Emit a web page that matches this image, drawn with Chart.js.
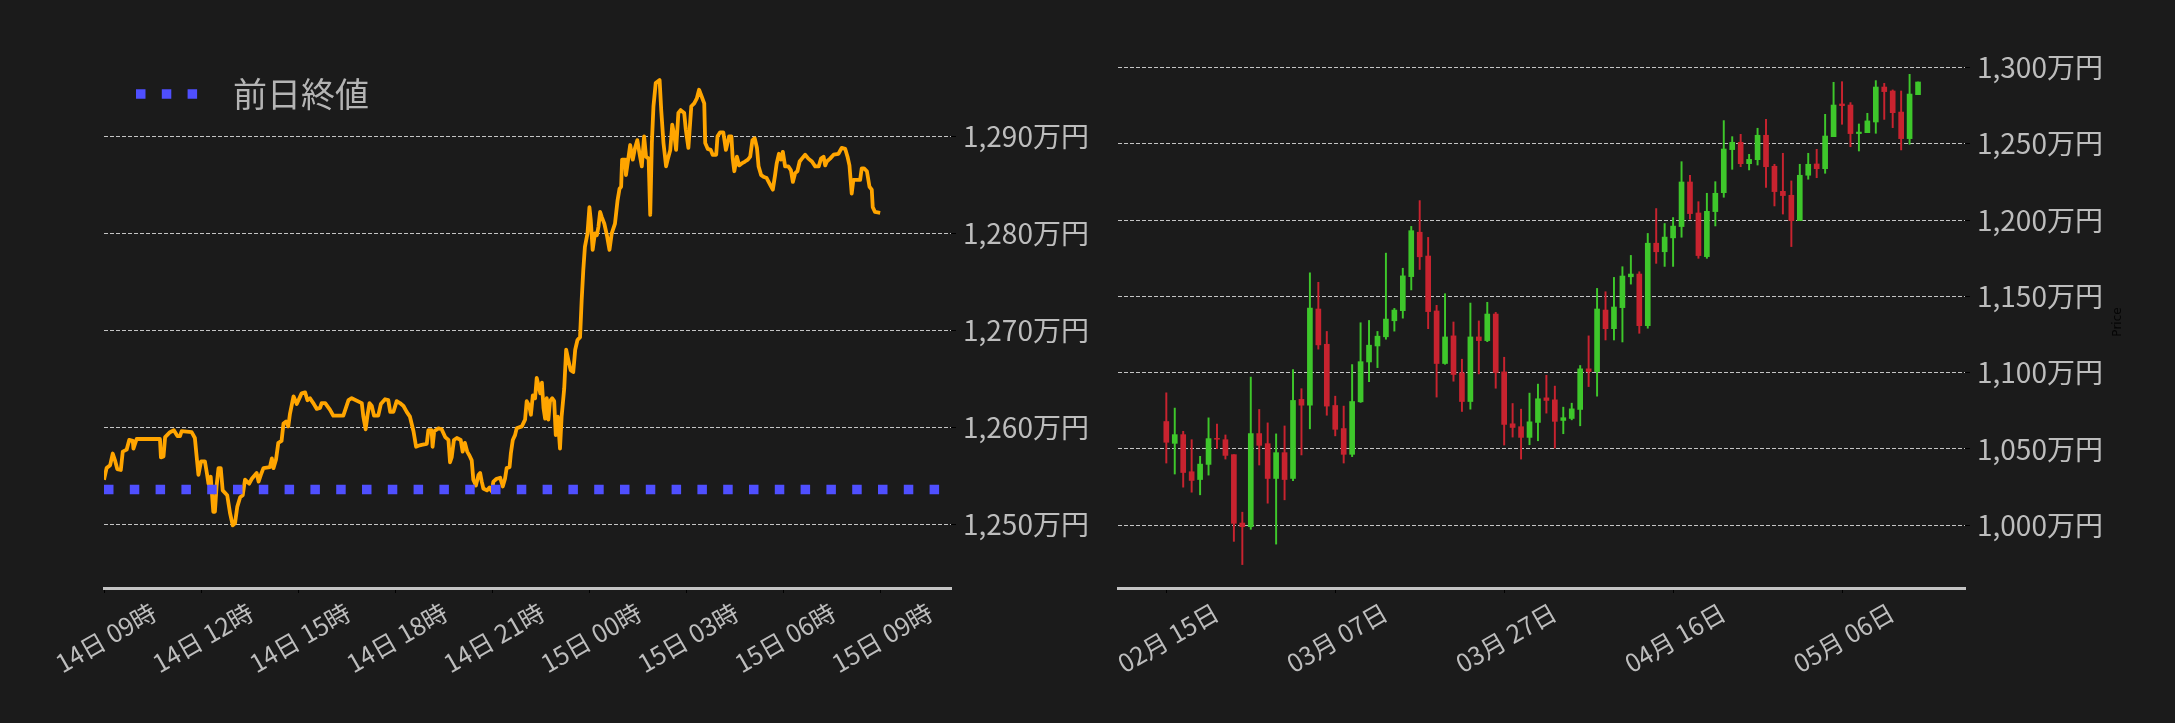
<!DOCTYPE html>
<html lang="ja">
<head>
<meta charset="utf-8">
<title>価格チャート</title>
<script src="https://cdn.jsdelivr.net/npm/chart.js@4.4.1/dist/chart.umd.min.js"></script>
<style>
  html, body { margin: 0; padding: 0; background: #1b1b1b; }
  body { width: 2175px; height: 723px; position: relative; overflow: hidden; }
  canvas { position: absolute; top: 0; }
  #intraday { left: 0; }
  #daily { left: 1088px; }
</style>
</head>
<body>
<canvas id="intraday" width="1088" height="723"></canvas>
<canvas id="daily" width="1087" height="723"></canvas>
<script>
const FONT = "'Noto Sans CJK JP', 'Noto Sans', sans-serif";
const TEXT = '#bdbdbd';
const GRID = 'rgba(215,215,215,0.9)';
const GREEN = '#3ec72b';
const RED = '#c8232f';

// ---- intraday (hours after 14日 09時) ----
const hourTicks = [0, 3, 6, 9, 12, 15, 18, 21, 24];
const hourLabels = ['14日 09時', '14日 12時', '14日 15時', '14日 18時', '14日 21時',
                    '15日 00時', '15日 03時', '15日 06時', '15日 09時'];
const priceTicksL = [1250, 1260, 1270, 1280, 1290];
const prevClose = 1253.6;
const lineHours = [
  0.00, 0.08, 0.19, 0.27, 0.34, 0.41, 0.52, 0.58, 0.70, 0.78, 0.89, 0.91, 1.01, 1.73, 1.76, 1.84,
  1.89, 2.04, 2.16, 2.27, 2.35, 2.40, 2.71, 2.81, 2.87, 2.92, 3.00, 3.12, 3.18, 3.23, 3.30, 3.38,
  3.43, 3.48, 3.54, 3.61, 3.67, 3.81, 3.90, 3.98, 4.05, 4.12, 4.21, 4.29, 4.36, 4.49, 4.57, 4.72,
  4.78, 4.85, 4.93, 5.13, 5.19, 5.24, 5.32, 5.39, 5.49, 5.55, 5.63, 5.70, 5.75, 5.86, 5.96, 6.11,
  6.22, 6.29, 6.37, 6.47, 6.58, 6.68, 6.73, 6.84, 6.99, 7.09, 7.40, 7.56, 7.66, 7.97, 8.02, 8.09,
  8.15, 8.21, 8.28, 8.35, 8.48, 8.56, 8.69, 8.79, 8.85, 8.95, 9.05, 9.15, 9.26, 9.36, 9.46, 9.57,
  9.65, 9.72, 9.82, 9.98, 10.03, 10.13, 10.16, 10.21, 10.34, 10.44, 10.55, 10.65, 10.70, 10.75, 10.82, 10.91,
  11.03, 11.09, 11.16, 11.23, 11.30, 11.37, 11.42, 11.50, 11.58, 11.63, 11.68, 11.73, 11.84, 11.92, 11.99, 12.04,
  12.14, 12.25, 12.33, 12.40, 12.45, 12.54, 12.58, 12.64, 12.71, 12.76, 12.92, 13.02, 13.07, 13.15, 13.20, 13.26,
  13.33, 13.38, 13.43, 13.49, 13.54, 13.59, 13.64, 13.69, 13.74, 13.79, 13.86, 13.92, 13.97, 14.03, 14.10, 14.15,
  14.23, 14.29, 14.36, 14.43, 14.51, 14.57, 14.64, 14.72, 14.77, 14.82, 14.87, 14.95, 15.01, 15.05, 15.11, 15.18,
  15.24, 15.29, 15.34, 15.39, 15.47, 15.55, 15.63, 15.70, 15.80, 15.88, 15.94, 15.99, 16.02, 16.11, 16.14, 16.22,
  16.27, 16.35, 16.42, 16.49, 16.56, 16.63, 16.70, 16.76, 16.84, 16.89, 16.94, 16.99, 17.06, 17.18, 17.23, 17.30,
  17.38, 17.43, 17.51, 17.57, 17.64, 17.69, 17.76, 17.83, 17.94, 17.99, 18.07, 18.16, 18.25, 18.33, 18.40, 18.48,
  18.56, 18.59, 18.67, 18.76, 18.82, 18.93, 18.97, 19.05, 19.15, 19.23, 19.33, 19.40, 19.44, 19.49, 19.57, 19.64,
  19.72, 19.82, 19.91, 19.98, 20.05, 20.12, 20.19, 20.24, 20.32, 20.41, 20.49, 20.60, 20.68, 20.75, 20.80, 20.87,
  20.93, 20.99, 21.06, 21.16, 21.24, 21.30, 21.37, 21.44, 21.51, 21.58, 21.68, 21.78, 21.89, 21.99, 22.10, 22.17,
  22.25, 22.30, 22.35, 22.45, 22.56, 22.71, 22.81, 22.92, 22.99, 23.05, 23.12, 23.17, 23.38, 23.43, 23.50, 23.59,
  23.67, 23.74, 23.77, 23.84, 24.00
];
const linePrices = [
  1254.6, 1255.8, 1256.1, 1257.3, 1256.6, 1255.7, 1255.6, 1257.5, 1257.7, 1258.7, 1258.6, 1257.8, 1258.8, 1258.8, 1256.9, 1257.0,
  1259.0, 1259.5, 1259.7, 1259.1, 1259.1, 1259.6, 1259.5, 1258.9, 1256.8, 1255.1, 1256.5, 1256.5, 1255.3, 1254.2, 1254.9, 1251.3,
  1251.3, 1253.9, 1255.8, 1255.8, 1253.5, 1253.0, 1251.1, 1249.9, 1250.1, 1251.8, 1252.8, 1253.0, 1254.6, 1254.2, 1254.7, 1255.3,
  1254.4, 1255.1, 1255.8, 1255.9, 1256.8, 1255.8, 1256.7, 1258.4, 1258.6, 1260.4, 1260.6, 1260.1, 1261.4, 1263.2, 1262.4, 1263.5,
  1263.6, 1262.8, 1263.0, 1262.5, 1261.9, 1262.0, 1262.5, 1262.5, 1261.8, 1261.2, 1261.2, 1262.8, 1263.0, 1262.5, 1261.1, 1259.8,
  1261.3, 1262.5, 1262.2, 1261.2, 1261.2, 1262.4, 1262.9, 1262.8, 1261.6, 1261.6, 1262.7, 1262.5, 1262.2, 1261.6, 1261.1, 1259.6,
  1258.0, 1258.1, 1258.2, 1258.3, 1259.7, 1259.7, 1258.0, 1259.6, 1259.9, 1259.8, 1259.0, 1258.7, 1256.4, 1256.9, 1258.7, 1258.9,
  1258.7, 1257.5, 1258.4, 1257.5, 1257.1, 1256.6, 1254.6, 1254.0, 1255.1, 1255.3, 1254.4, 1253.7, 1253.5, 1253.8, 1253.4, 1254.4,
  1254.7, 1254.8, 1253.9, 1254.7, 1255.8, 1255.9, 1257.3, 1258.7, 1259.2, 1259.9, 1260.1, 1260.8, 1262.7, 1262.2, 1261.3, 1263.3,
  1263.0, 1265.1, 1264.4, 1263.5, 1264.6, 1262.0, 1260.9, 1263.0, 1260.8, 1262.7, 1263.0, 1262.7, 1259.2, 1261.1, 1257.8, 1261.1,
  1264.0, 1268.0, 1266.9, 1265.9, 1265.7, 1268.0, 1269.0, 1269.3, 1273.1, 1276.2, 1278.6, 1280.0, 1282.7, 1281.4, 1278.3, 1280.0,
  1279.8, 1280.7, 1282.2, 1281.7, 1281.0, 1279.8, 1278.3, 1280.0, 1281.0, 1283.4, 1284.6, 1284.8, 1287.6, 1287.6, 1286.0, 1287.9,
  1289.1, 1287.6, 1288.8, 1289.6, 1288.2, 1286.9, 1290.0, 1287.9, 1287.7, 1281.9, 1289.3, 1293.1, 1295.5, 1295.8, 1292.7, 1289.3,
  1286.9, 1287.6, 1288.6, 1291.2, 1290.0, 1288.6, 1292.4, 1292.7, 1292.4, 1290.7, 1288.8, 1293.1, 1293.4, 1293.9, 1294.8, 1294.1,
  1293.4, 1289.3, 1288.7, 1288.6, 1288.1, 1288.1, 1290.0, 1290.4, 1290.4, 1288.6, 1290.0, 1290.0, 1287.7, 1286.4, 1287.9, 1287.0,
  1287.2, 1287.4, 1287.6, 1287.9, 1289.6, 1289.8, 1288.8, 1286.9, 1286.0, 1285.8, 1285.7, 1285.0, 1284.5, 1286.0, 1287.2, 1288.2,
  1287.6, 1288.4, 1286.9, 1286.9, 1286.5, 1285.3, 1286.2, 1286.4, 1287.4, 1287.7, 1288.1, 1287.7, 1287.4, 1286.9, 1286.9, 1287.7,
  1287.9, 1287.0, 1287.4, 1287.7, 1288.1, 1288.2, 1288.8, 1288.7, 1287.9, 1287.0, 1284.1, 1285.5, 1285.5, 1286.7, 1286.7, 1286.4,
  1284.8, 1284.5, 1282.7, 1282.2, 1282.1
];
const hourMax = 26.19;

// ---- daily candles (day 0 = 02月 15日) ----
const dayTicks = [0, 20, 40, 60, 80];
const dayLabels = ['02月 15日', '03月 07日', '03月 27日', '04月 16日', '05月 06日'];
const priceTicksR = [1000, 1050, 1100, 1150, 1200, 1250, 1300];
const opens = [
  1068.0, 1053.7, 1059.4, 1035.1, 1030.0, 1039.9, 1057.0, 1056.1, 1046.3, 1001.5,
  999.1, 1060.1, 1053.5, 1030.7, 1047.6, 1030.7, 1082.5, 1078.7, 1141.7, 1118.6,
  1078.5, 1063.4, 1046.5, 1080.9, 1107.0, 1117.5, 1123.5, 1134.0, 1140.6, 1162.9,
  1192.0, 1176.4, 1140.4, 1106.0, 1124.1, 1099.9, 1081.1, 1123.4, 1121.0, 1138.4,
  1100.5, 1066.5, 1064.6, 1057.6, 1067.4, 1083.5, 1082.2, 1068.7, 1070.0, 1075.9,
  1102.5, 1100.7, 1141.0, 1128.8, 1142.6, 1162.8, 1164.6, 1130.8, 1184.8, 1179.2,
  1188.3, 1195.7, 1224.9, 1204.6, 1176.0, 1205.5, 1217.9, 1246.1, 1250.9, 1236.9,
  1239.5, 1255.5, 1235.2, 1218.8, 1216.2, 1199.6, 1229.3, 1236.7, 1233.6, 1254.6,
  1276.0, 1275.3, 1256.6, 1257.2, 1264.2, 1287.1, 1284.5, 1270.7, 1253.3, 1282.1
];
const highs = [
  1086.8, 1076.8, 1061.6, 1056.1, 1045.2, 1070.4, 1066.4, 1059.2, 1046.3, 1008.6,
  1097.1, 1075.9, 1067.1, 1059.9, 1065.1, 1102.0, 1089.5, 1165.4, 1159.2, 1127.0,
  1084.6, 1078.1, 1105.3, 1132.7, 1134.2, 1127.0, 1178.3, 1142.1, 1168.4, 1195.8,
  1212.7, 1188.6, 1144.1, 1151.7, 1133.2, 1108.8, 1145.6, 1133.9, 1146.1, 1139.5,
  1110.1, 1079.8, 1076.1, 1086.6, 1092.5, 1098.3, 1091.2, 1077.4, 1080.0, 1104.7,
  1124.1, 1155.2, 1153.0, 1162.4, 1169.4, 1176.8, 1166.1, 1191.2, 1207.5, 1197.7,
  1201.6, 1238.2, 1229.3, 1212.0, 1217.5, 1225.1, 1265.1, 1254.6, 1256.1, 1243.0,
  1260.1, 1265.9, 1236.5, 1243.7, 1225.6, 1236.5, 1243.7, 1246.3, 1269.2, 1290.2,
  1290.6, 1276.9, 1262.9, 1269.9, 1291.3, 1289.5, 1285.2, 1284.5, 1295.4, 1290.4
];
const lows = [
  1040.8, 1033.6, 1025.0, 1021.7, 1020.0, 1032.9, 1050.2, 1043.4, 989.5, 974.3,
  997.4, 1039.5, 1014.5, 987.7, 1016.7, 1029.2, 1046.1, 1063.2, 1115.4, 1072.1,
  1058.6, 1040.8, 1045.0, 1080.5, 1094.1, 1103.3, 1121.9, 1127.2, 1135.7, 1154.2,
  1167.6, 1128.8, 1084.0, 1105.5, 1094.4, 1074.6, 1076.1, 1099.2, 1120.3, 1089.8,
  1052.6, 1057.8, 1043.4, 1052.8, 1055.4, 1073.5, 1050.6, 1060.0, 1069.1, 1065.2,
  1090.9, 1084.6, 1121.4, 1121.4, 1120.1, 1158.0, 1125.8, 1129.1, 1171.6, 1169.6,
  1169.6, 1188.7, 1200.5, 1174.9, 1174.9, 1196.1, 1214.9, 1233.2, 1234.9, 1232.8,
  1236.0, 1221.4, 1209.2, 1203.9, 1182.6, 1199.6, 1226.7, 1227.7, 1230.6, 1254.6,
  1262.7, 1248.0, 1245.2, 1257.2, 1256.8, 1265.9, 1260.5, 1245.9, 1249.6, 1282.1
];
const closes = [
  1054.4, 1059.4, 1034.6, 1029.4, 1040.1, 1056.8, 1056.4, 1045.8, 1001.3, 999.1,
  1060.1, 1052.4, 1030.7, 1047.6, 1030.0, 1081.8, 1078.7, 1142.3, 1118.2, 1078.1,
  1062.9, 1046.5, 1081.1, 1107.2, 1118.0, 1123.9, 1135.1, 1141.0, 1163.4, 1193.0,
  1175.9, 1140.0, 1106.0, 1123.4, 1098.8, 1081.1, 1123.4, 1121.0, 1138.4, 1100.1,
  1066.1, 1064.1, 1057.6, 1067.8, 1082.9, 1081.8, 1068.1, 1070.5, 1076.3, 1102.5,
  1100.7, 1141.7, 1128.8, 1143.0, 1163.3, 1164.6, 1130.8, 1184.8, 1179.2, 1188.8,
  1196.0, 1224.9, 1204.2, 1176.7, 1205.7, 1217.5, 1246.5, 1250.9, 1236.9, 1239.7,
  1255.5, 1234.9, 1218.6, 1216.0, 1199.6, 1229.3, 1236.5, 1233.6, 1255.0, 1275.3,
  1274.9, 1256.6, 1257.6, 1264.9, 1287.1, 1284.1, 1270.3, 1253.3, 1282.5, 1290.4
];

const yen = (v) => v.toLocaleString('en-US') + '万円';
const tickFont = { family: FONT, size: 28 };
const dateFont = { family: FONT, size: 25 };

// legend drawn inside the plot, like the original
const inPlotLegend = {
    id: 'inPlotLegend',
    afterDraw(chart, args, opts) {
        const ds = chart.data.datasets[opts.index];
        const ctx = chart.ctx;
        ctx.save();
        ctx.strokeStyle = ds.borderColor;
        ctx.lineWidth = ds.borderWidth;
        ctx.lineCap = 'butt';
        ctx.setLineDash(ds.borderDash || []);
        ctx.beginPath();
        ctx.moveTo(opts.x, opts.y);
        ctx.lineTo(opts.x + opts.sampleWidth, opts.y);
        ctx.stroke();
        ctx.setLineDash([]);
        ctx.fillStyle = opts.color;
        ctx.font = opts.font;
        ctx.textBaseline = 'middle';
        ctx.textAlign = 'left';
        ctx.fillText(ds.label, opts.textX, opts.y);
        ctx.restore();
    }
};

// y label on the right that reads bottom-to-top
const sideLabel = {
    id: 'sideLabel',
    afterDraw(chart, args, opts) {
        const ctx = chart.ctx;
        ctx.save();
        ctx.translate(opts.x, opts.y);
        ctx.rotate(-Math.PI / 2);
        ctx.fillStyle = opts.color;
        ctx.font = opts.font;
        ctx.textAlign = 'center';
        ctx.textBaseline = 'middle';
        ctx.fillText(opts.text, 0, 0);
        ctx.restore();
    }
};

// fixed axis sizes so both plots sit where the original put them
const fixX = (s) => { s.height = 135; s.paddingLeft = 0; s.paddingRight = 0; };

new Chart(document.getElementById('intraday'), {
    type: 'line',
    data: {
        datasets: [
            {
                label: '前日終値',
                data: [{ x: 0, y: prevClose }, { x: hourMax, y: prevClose }],
                borderColor: '#4f4fff',
                borderWidth: 9.5,
                borderDash: [9.5, 16.3],
                borderCapStyle: 'butt',
                pointRadius: 0
            },
            {
                label: '価格',
                data: lineHours.map((h, i) => ({ x: h, y: linePrices[i] })),
                borderColor: '#ffa500',
                borderWidth: 3.8,
                borderJoinStyle: 'round',
                pointRadius: 0,
                tension: 0
            }
        ]
    },
    options: {
        responsive: false,
        animation: false,
        devicePixelRatio: 1,
        layout: { padding: { left: 104, top: 39, right: 0, bottom: 0 } },
        plugins: {
            legend: { display: false },
            tooltip: { enabled: false },
            inPlotLegend: {
                index: 0, x: 136, y: 94, sampleWidth: 61.3, textX: 233,
                color: '#b4b4b4', font: "34px 'Noto Sans CJK JP', sans-serif"
            }
        },
        scales: {
            x: {
                type: 'linear',
                min: 0,
                max: hourMax,
                afterBuildTicks: (s) => { s.ticks = hourTicks.map((v) => ({ value: v })); },
                afterFit: fixX,
                ticks: {
                    autoSkip: false,
                    minRotation: 30,
                    maxRotation: 30,
                    labelOffset: 50,
                    padding: 4,
                    color: TEXT,
                    font: dateFont,
                    callback: (v) => hourLabels[hourTicks.indexOf(v)]
                },
                grid: { drawOnChartArea: false, tickLength: 5, tickColor: '#000', tickWidth: 1 },
                border: { display: true, color: '#c4c4c4', width: 3 }
            },
            y: {
                position: 'right',
                min: 1243.44,
                max: 1300.03,
                afterBuildTicks: (s) => { s.ticks = priceTicksL.map((v) => ({ value: v })); },
                afterFit: (s) => { s.width = 137; },
                ticks: { padding: 7, color: TEXT, font: tickFont, callback: yen },
                grid: { color: GRID, lineWidth: 1, tickLength: 5, tickColor: '#000', tickWidth: 1 },
                border: { display: false, dash: [4, 2] }
            }
        }
    },
    plugins: [inPlotLegend]
});

const candleColors = opens.map((o, i) => (closes[i] >= o ? GREEN : RED));

new Chart(document.getElementById('daily'), {
    type: 'bar',
    data: {
        datasets: [
            {
                label: 'body',
                data: opens.map((o, i) => ({ x: i, y: [o, closes[i]] })),
                backgroundColor: candleColors,
                barThickness: 5,
                grouped: false,
                borderWidth: 0
            },
            {
                label: 'wick',
                data: lows.map((l, i) => ({ x: i, y: [l, highs[i]] })),
                backgroundColor: candleColors,
                barThickness: 1.3,
                grouped: false,
                borderWidth: 0
            }
        ]
    },
    options: {
        responsive: false,
        animation: false,
        devicePixelRatio: 1,
        layout: { padding: { left: 30, top: 39, right: 0, bottom: 0 } },
        plugins: {
            legend: { display: false },
            tooltip: { enabled: false },
            sideLabel: { text: 'Price', x: 1030, y: 322, color: '#050505', font: "12px 'DejaVu Sans', sans-serif" }
        },
        scales: {
            x: {
                type: 'linear',
                offset: false,
                min: -5.72,
                max: 94.56,
                afterBuildTicks: (s) => { s.ticks = dayTicks.map((v) => ({ value: v })); },
                afterFit: fixX,
                ticks: {
                    autoSkip: false,
                    minRotation: 30,
                    maxRotation: 30,
                    labelOffset: 50,
                    padding: 4,
                    color: TEXT,
                    font: dateFont,
                    callback: (v) => dayLabels[dayTicks.indexOf(v)]
                },
                grid: { offset: false, drawOnChartArea: false, tickLength: 5, tickColor: '#000', tickWidth: 1 },
                border: { display: true, color: '#c4c4c4', width: 3 }
            },
            y: {
                position: 'right',
                min: 958.95,
                max: 1318.56,
                afterBuildTicks: (s) => { s.ticks = priceTicksR.map((v) => ({ value: v })); },
                afterFit: (s) => { s.width = 210; },
                ticks: { padding: 7, color: TEXT, font: tickFont, callback: yen },
                grid: { color: GRID, lineWidth: 1, tickLength: 5, tickColor: '#000', tickWidth: 1 },
                border: { display: false, dash: [4, 2] }
            }
        }
    },
    plugins: [sideLabel]
});
</script>
</body>
</html>
